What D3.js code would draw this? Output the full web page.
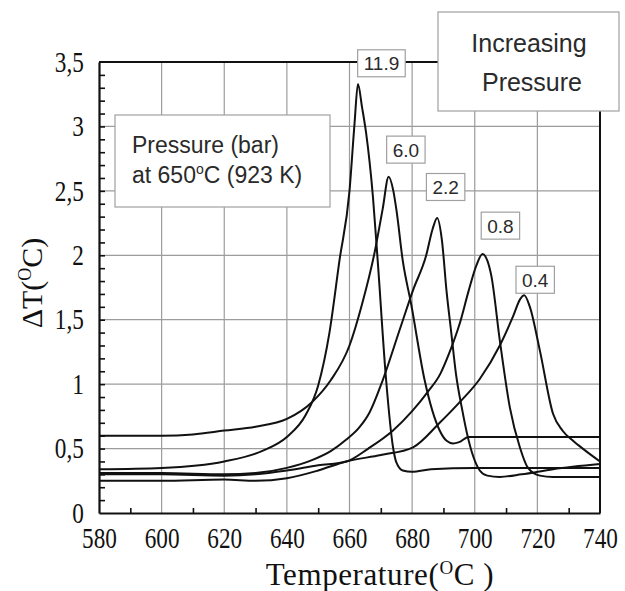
<!DOCTYPE html>
<html>
<head>
<meta charset="utf-8">
<script src="https://cdn.jsdelivr.net/npm/d3@7"></script>
<style>
  body { margin: 0; background: #fff; }
  svg { display: block; }
  .sans { font-family: 'Liberation Sans', Arial, sans-serif; fill: #2a2a2a; }
  .serif { font-family: 'Liberation Serif', 'Times New Roman', serif; fill: #111; }
</style>
</head>
<body>
<svg width="625" height="591"></svg>
<script>
// DTA traces: dT vs furnace temperature, one run per pressure (bar at 650 C)
var xTicks = [580, 600, 620, 640, 660, 680, 700, 720, 740];
var yTicks = [0, 0.5, 1, 1.5, 2, 2.5, 3, 3.5];
var yTickLabels = ['0', '0,5', '1', '1,5', '2', '2,5', '3', '3,5'];

var pressures = ['11.9', '6.0', '2.2', '0.8', '0.4'];

// [temperature C, dT C]
var trace119 = [[580, 0.34], [600, 0.35], [620, 0.40], [632, 0.48], [640, 0.59], [646, 0.76], [650, 0.99],
  [653.6, 1.40], [656.8, 1.96], [660, 2.50], [661.6, 3.02], [662.7, 3.33], [664, 3.15], [665.3, 2.95],
  [667.5, 2.45], [669, 1.96], [671.7, 1.03], [673.9, 0.51], [675, 0.39], [677, 0.33], [680, 0.32],
  [686, 0.34], [700, 0.35], [720, 0.35], [740, 0.35]];
var trace60 = [[580, 0.60], [600, 0.60], [610, 0.61], [620, 0.64], [630, 0.67], [640, 0.73], [648, 0.86],
  [654, 1.03], [660, 1.30], [664, 1.62], [668, 2.02], [670.6, 2.36], [672.5, 2.61], [674, 2.50],
  [675, 2.35], [677, 1.96], [679.7, 1.62], [684, 1.03], [688.8, 0.64], [691, 0.56], [693, 0.54],
  [695, 0.55], [698, 0.59], [710, 0.59], [740, 0.59]];
var trace22 = [[580, 0.31], [600, 0.31], [620, 0.30], [630, 0.31], [640, 0.35], [648, 0.41], [654, 0.48],
  [659, 0.57], [663, 0.66], [666.4, 0.78], [670.6, 1.03], [676, 1.42], [680.3, 1.73], [684.5, 2.00],
  [686.5, 2.20], [688, 2.29], [689.5, 2.12], [691, 1.72], [692.5, 1.40], [694, 1.08], [696, 0.80],
  [697.5, 0.62], [699.5, 0.44], [701.6, 0.33], [704, 0.29], [708, 0.28], [715, 0.30], [725, 0.34],
  [740, 0.38]];
var trace08 = [[580, 0.30], [600, 0.30], [620, 0.29], [630, 0.30], [640, 0.33], [650, 0.37], [659, 0.40],
  [666, 0.50], [673.9, 0.64], [680, 0.79], [685, 0.94], [689, 1.08], [692, 1.25], [695.2, 1.47],
  [698, 1.72], [700.5, 1.92], [702.5, 2.01], [704, 1.96], [705.3, 1.84], [708, 1.34], [711.2, 0.82],
  [714.4, 0.51], [717, 0.35], [720.8, 0.29], [725, 0.28], [740, 0.28]];
var trace04 = [[580, 0.25], [600, 0.25], [620, 0.26], [630, 0.25], [640, 0.27], [650, 0.33], [659, 0.40],
  [670, 0.45], [680.3, 0.51], [688.8, 0.70], [695.2, 0.86], [701.6, 1.04], [708, 1.30], [712.3, 1.53],
  [714.5, 1.66], [715.8, 1.69], [717.6, 1.60], [720.8, 1.26], [725, 0.77], [728, 0.64], [731.4, 0.56],
  [735, 0.49], [740, 0.40]];
var traces = [trace119, trace60, trace22, trace08, trace04];

// where each pressure tag sits (temperature, dT)
var tagSpots = [[670.2, 3.49], [678, 2.82], [690.7, 2.53], [708.2, 2.23], [719.3, 1.81]];

var svg = d3.select('svg');
var x = d3.scaleLinear().domain([580, 740]).range([99, 600]);
var y = d3.scaleLinear().domain([0, 3.5]).range([513, 62]);

// grid
var grid = svg.append('g').attr('stroke', '#9c9c9c').attr('stroke-width', 1.2);
grid.selectAll('.v').data(xTicks.slice(1, -1)).enter().append('line')
  .attr('x1', x).attr('x2', x).attr('y1', y(0)).attr('y2', y(3.5));
grid.selectAll('.h').data(yTicks.slice(1, -1)).enter().append('line')
  .attr('y1', y).attr('y2', y).attr('x1', x(580)).attr('x2', x(740));

// traces
var line = d3.line()
  .x(function(d) { return x(d[0]); })
  .y(function(d) { return y(d[1]); })
  .curve(d3.curveMonotoneX);
svg.append('g').selectAll('path').data(traces).enter().append('path')
  .attr('d', line).attr('fill', 'none').attr('stroke', '#111').attr('stroke-width', 2);

// top + right frame
svg.append('path')
  .attr('d', 'M' + x(580) + ',' + y(3.5) + 'H' + x(740) + 'V' + y(0))
  .attr('fill', 'none').attr('stroke', '#111').attr('stroke-width', 2);

// minor ticks, pointing inwards
var minorX = svg.append('g').attr('transform', 'translate(0,' + y(0) + ')')
  .call(d3.axisBottom(x).tickValues(d3.range(590, 740, 20)).tickSize(-5).tickFormat(''));
minorX.select('.domain').remove();
var minorY = svg.append('g').attr('transform', 'translate(' + x(580) + ',0)')
  .call(d3.axisLeft(y).tickValues(d3.range(1, 35).map(function(i) { return i / 10; })).tickSize(-6).tickFormat(''));
minorY.select('.domain').remove();
svg.selectAll('.tick line').attr('stroke', '#111').attr('stroke-width', 1.6);

// main axes
var xAxis = svg.append('g').attr('transform', 'translate(0,' + y(0) + ')')
  .call(d3.axisBottom(x).tickValues(xTicks).tickSize(0).tickSizeOuter(0).tickPadding(14));
var yAxis = svg.append('g').attr('transform', 'translate(' + x(580) + ',0)')
  .call(d3.axisLeft(y).tickValues(yTicks).tickSize(0).tickSizeOuter(0).tickPadding(19)
    .tickFormat(function(d, i) { return yTickLabels[i]; }));
[xAxis, yAxis].forEach(function(ax) {
  ax.attr('font-family', null).attr('font-size', null);
  ax.select('.domain').attr('stroke', '#111').attr('stroke-width', 2.2);
  // the original numbers are a narrow serif, squash them sideways
  ax.selectAll('text').attr('class', 'serif').style('font-size', '29px')
    .attr('transform', 'scale(0.8,1)');
});

// axis titles
var xTitle = svg.append('text').attr('class', 'serif').style('font-size', '31px')
  .style('letter-spacing', '0.6px')
  .attr('x', 380).attr('y', 585).attr('text-anchor', 'middle');
xTitle.append('tspan').text('Temperature(');
xTitle.append('tspan').attr('dy', -11).style('font-size', '19px').text('O');
xTitle.append('tspan').attr('dy', 11).text('C )');

var yTitle = svg.append('text').attr('class', 'serif').style('font-size', '30px')
  .attr('transform', 'translate(42,283) rotate(-90)').attr('text-anchor', 'middle');
yTitle.append('tspan').text('\u0394T(');
yTitle.append('tspan').attr('dy', -11).style('font-size', '18px').text('O');
yTitle.append('tspan').attr('dy', 11).text('C)');

// pressure tags on the peaks
var tags = svg.append('g').selectAll('g').data(pressures).enter().append('g')
  .attr('transform', function(d, i) {
    return 'translate(' + x(tagSpots[i][0]) + ',' + y(tagSpots[i][1]) + ')';
  });
tags.append('text').attr('class', 'sans').style('font-size', '19px')
  .attr('text-anchor', 'middle').attr('y', 7).text(function(d) { return d; });
tags.insert('rect', 'text').each(function() {
  var w = this.parentNode.querySelector('text').getComputedTextLength() + 12;
  d3.select(this).attr('x', -w / 2).attr('y', -13.5).attr('width', w).attr('height', 27);
}).attr('fill', '#fff').attr('stroke', '#a0a0a0').attr('stroke-width', 1.2);

// note boxes
var note = svg.append('g');
note.append('rect').attr('x', 115).attr('y', 115).attr('width', 215).attr('height', 92)
  .attr('fill', '#fff').attr('stroke', '#a0a0a0').attr('stroke-width', 1.2);
note.append('text').attr('class', 'sans').style('font-size', '23px')
  .attr('x', 132).attr('y', 153).text('Pressure (bar)');
var at = note.append('text').attr('class', 'sans').style('font-size', '23px')
  .attr('x', 132).attr('y', 183);
at.append('tspan').text('at 650');
at.append('tspan').attr('dy', -9).style('font-size', '14px').text('o');
at.append('tspan').attr('dy', 9).text('C (923 K)');

var arrowNote = svg.append('g');
arrowNote.append('rect').attr('x', 438).attr('y', 12).attr('width', 181).attr('height', 99)
  .attr('fill', '#fff').attr('stroke', '#a0a0a0').attr('stroke-width', 1.2);
arrowNote.append('text').attr('class', 'sans').style('font-size', '25px')
  .attr('x', 529).attr('y', 52).attr('text-anchor', 'middle').text('Increasing');
arrowNote.append('text').attr('class', 'sans').style('font-size', '25px')
  .attr('x', 532).attr('y', 91).attr('text-anchor', 'middle').text('Pressure');
</script>
</body>
</html>
